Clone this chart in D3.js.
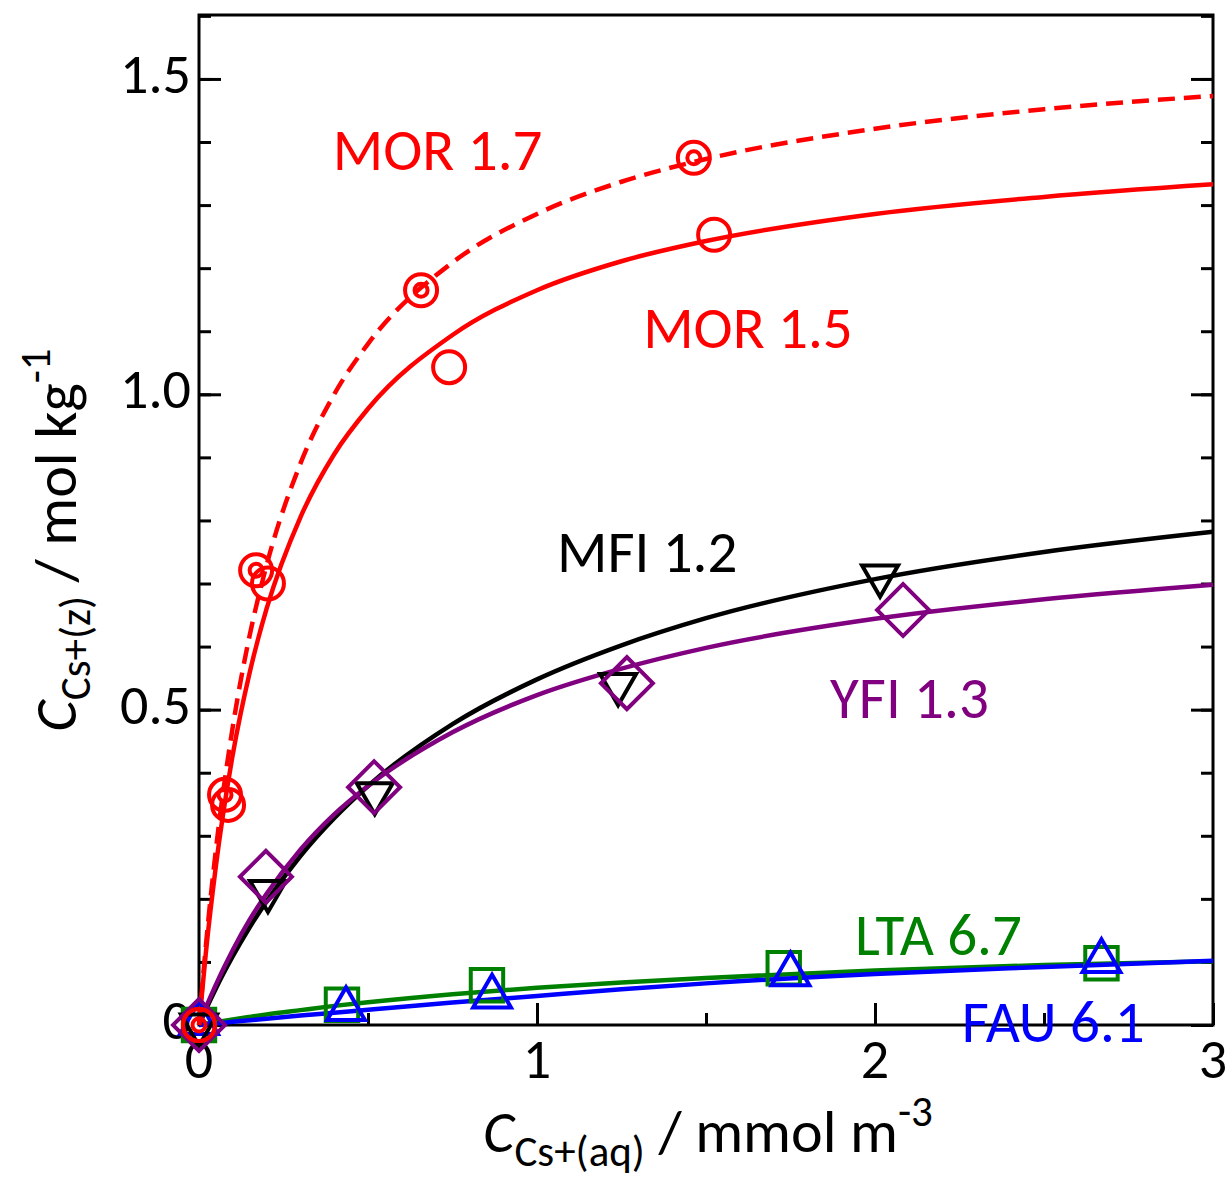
<!DOCTYPE html>
<html>
<head>
<meta charset="utf-8">
<script src="https://cdn.jsdelivr.net/npm/d3@7"></script>
<style>
  body { margin: 0; background: #fff; }
  text { font-family: Carlito, Calibri, Lato, sans-serif; }
</style>
</head>
<body>
<div id="chart"></div>
<script>
// measured points (x: mmol m-3, y: mol kg-1)
var mor17X = [0, 0.077, 0.169, 0.657, 1.464];
var mor17Y = [0, 0.365, 0.721, 1.165, 1.375];
var mor15X = [0, 0.086, 0.204, 0.74, 1.524];
var mor15Y = [0, 0.349, 0.70, 1.043, 1.253];
var mfiX = [0, 0.204, 0.52, 1.24, 2.015];
var mfiY = [0, 0.212, 0.367, 0.54, 0.712];
var yfiX = [0, 0.198, 0.518, 1.266, 2.083];
var yfiY = [0, 0.235, 0.377, 0.542, 0.658];
var ltaX = [0, 0.423, 0.852, 1.73, 2.67];
var ltaY = [0, 0.032, 0.063, 0.09, 0.098];
var fauX = [0, 0.435, 0.867, 1.75, 2.67];
var fauY = [0, 0.022, 0.042, 0.077, 0.098];

// fitted curves
var fitX     = [0, 0.02, 0.05, 0.1, 0.15, 0.2, 0.3, 0.4, 0.5, 0.75, 1, 1.25, 1.5, 2, 2.5, 3];
var mor17Fit = [0, 0.124, 0.278, 0.473, 0.618, 0.729, 0.890, 1.000, 1.080, 1.209, 1.286, 1.337, 1.373, 1.421, 1.452, 1.473];
var mor15Fit = [0, 0.113, 0.252, 0.429, 0.559, 0.660, 0.805, 0.905, 0.977, 1.094, 1.165, 1.211, 1.243, 1.286, 1.313, 1.333];
var mfiFit   = [0, 0.024, 0.058, 0.109, 0.155, 0.196, 0.268, 0.328, 0.379, 0.477, 0.548, 0.602, 0.645, 0.707, 0.750, 0.782];
var yfiFit   = [0, 0.027, 0.064, 0.119, 0.167, 0.208, 0.278, 0.334, 0.379, 0.464, 0.523, 0.565, 0.598, 0.644, 0.675, 0.698];
var ltaFit   = [0, 0.002, 0.0045, 0.0088, 0.0128, 0.0167, 0.0236, 0.0303, 0.0361, 0.0487, 0.059, 0.0675, 0.0747, 0.0863, 0.0951, 0.101];
var fauFit   = [0, 0.001, 0.0025, 0.005, 0.0075, 0.010, 0.015, 0.0195, 0.024, 0.0355, 0.046, 0.0565, 0.066, 0.081, 0.092, 0.102];

var xTicks = [0, 1, 2, 3];
var yTicks = [0, 0.5, 1.0, 1.5];

var labelText = ["MOR 1.7", "MOR 1.5", "MFI 1.2", "YFI 1.3", "LTA 6.7", "FAU 6.1"];
var labelAt = [[0.396, 1.356], [1.314, 1.073], [1.059, 0.718], [1.867, 0.487], [1.941, 0.111], [2.257, -0.027]];

var red = "#ff0000", purple = "#800080", green = "#008000", blue = "#0000ff";

var W = 1229, H = 1178;
var box = {l: 199, r: 1213, t: 15, b: 1025};

var svg = d3.select("#chart").append("svg")
  .attr("width", W).attr("height", H);

var x = d3.scaleLinear().domain([0, 3]).range([box.l, box.r]);
var y = d3.scaleLinear().domain([0, 1.5]).range([box.b, box.b - 1.5 * 630.7]);
var yTop = y.invert(box.t);

// ticks (all inward)
function minor(step, lo, hi) {
  var out = [];
  for (var v = lo; v <= hi + 1e-9; v += step) out.push(+v.toFixed(3));
  return out;
}
var xMinor = minor(0.5, 0, 3);
var yMinor = minor(0.1, 0, yTop);

var axes = svg.append("g").attr("class", "axes");
function tickAxis(gen, tr, vals, len) {
  var g = axes.append("g").attr("transform", tr)
    .call(gen.tickValues(vals).tickSize(-len).tickFormat(""));
  g.select(".domain").remove();
  g.selectAll("line").attr("stroke", "#000").attr("stroke-width", 3);
  return g;
}
tickAxis(d3.axisBottom(x), "translate(0," + box.b + ")", xMinor, 12);
tickAxis(d3.axisBottom(x), "translate(0," + box.b + ")", xTicks, 22);
tickAxis(d3.axisLeft(y), "translate(" + box.l + ",0)", yMinor, 12);
tickAxis(d3.axisLeft(y), "translate(" + box.l + ",0)", yTicks, 22);
tickAxis(d3.axisRight(y), "translate(" + box.r + ",0)", yMinor, 12);
tickAxis(d3.axisRight(y), "translate(" + box.r + ",0)", yTicks, 22);

axes.append("rect")
  .attr("x", box.l).attr("y", box.t)
  .attr("width", box.r - box.l).attr("height", box.b - box.t)
  .attr("fill", "none").attr("stroke", "#000").attr("stroke-width", 3);

// tick labels
var fs = 56, fsub = 43;
axes.selectAll(".xl").data(xTicks).enter().append("text")
  .attr("x", function(d) { return x(d); })
  .attr("y", 1078)
  .attr("text-anchor", "middle")
  .attr("font-size", fs)
  .text(function(d) { return d; });
axes.selectAll(".yl").data(yTicks).enter().append("text")
  .attr("x", 191)
  .attr("y", function(d) { return y(d) + 14; })
  .attr("text-anchor", "end")
  .attr("font-size", fs)
  .text(function(d) { return d === 0 ? "0" : d3.format(".1f")(d); });

// axis titles
var tfs = 60;
var xt = svg.append("text")
  .attr("x", 708).attr("y", 1152)
  .attr("text-anchor", "middle").attr("font-size", tfs);
xt.append("tspan").attr("font-style", "italic").text("C");
xt.append("tspan").attr("font-size", fsub).attr("dy", 14).text("Cs+(aq)");
xt.append("tspan").attr("dy", -14).text(" / mmol m");
xt.append("tspan").attr("font-size", fsub).attr("dy", -26).text("-3");

var yt = svg.append("text")
  .attr("transform", "translate(76,540) rotate(-90)")
  .attr("text-anchor", "middle").attr("font-size", tfs);
yt.append("tspan").attr("font-style", "italic").text("C");
yt.append("tspan").attr("font-size", fsub).attr("dy", 14).text("Cs+(z)");
yt.append("tspan").attr("dy", -14).text(" / mol kg");
yt.append("tspan").attr("font-size", fsub).attr("dy", -26).text("-1");

// fitted lines
var line = d3.line()
  .x(function(d) { return x(d[0]); })
  .y(function(d) { return y(d[1]); })
  .curve(d3.curveMonotoneX);

var plot = svg.append("g");
var curves = [
  {ys: ltaFit, color: green, dash: null},
  {ys: fauFit, color: blue, dash: null},
  {ys: mfiFit, color: "#000", dash: null},
  {ys: yfiFit, color: purple, dash: null},
  {ys: mor15Fit, color: red, dash: null},
  {ys: mor17Fit, color: red, dash: "17,9"}
];
curves.forEach(function(c) {
  plot.append("path")
    .datum(fitX.map(function(v, i) { return [v, c.ys[i]]; }))
    .attr("d", line)
    .attr("fill", "none")
    .attr("stroke", c.color)
    .attr("stroke-width", 4.5)
    .attr("stroke-dasharray", c.dash);
});

// markers
function pts(xs, ys) { return xs.map(function(v, i) { return [v, ys[i]]; }); }
function markers(data, color, shape, size, rot, dy) {
  plot.append("g").selectAll("path").data(data).enter().append("path")
    .attr("transform", function(d) {
      return "translate(" + x(d[0]) + "," + (y(d[1]) + (dy || 0)) + ") rotate(" + (rot || 0) + ")";
    })
    .attr("d", d3.symbol().type(shape).size(size))
    .attr("fill", "none")
    .attr("stroke", color)
    .attr("stroke-width", 4);
}
markers(pts(ltaX, ltaY), green, d3.symbolSquare, 1050);
markers(pts(fauX, fauY), blue, d3.symbolTriangle, 620, 0, -2);
markers(pts(mfiX, mfiY), "#000", d3.symbolTriangle, 560, 180);
markers(pts(yfiX, yfiY), purple, d3.symbolSquare, 1350, 45);
markers(pts(mor15X, mor15Y), red, d3.symbolCircle, Math.PI * 16 * 16);
markers(pts(mor17X, mor17Y), red, d3.symbolCircle, Math.PI * 16 * 16);
markers(pts(mor17X, mor17Y), red, d3.symbolCircle, Math.PI * 6.5 * 6.5);

// series labels
var labelColor = [red, red, "#000", purple, green, blue];
svg.append("g").selectAll("text").data(labelText).enter().append("text")
  .attr("x", function(d, i) { return x(labelAt[i][0]); })
  .attr("y", function(d, i) { return y(labelAt[i][1]); })
  .attr("font-size", 59)
  .attr("fill", function(d, i) { return labelColor[i]; })
  .text(function(d) { return d; });
</script>
</body>
</html>
